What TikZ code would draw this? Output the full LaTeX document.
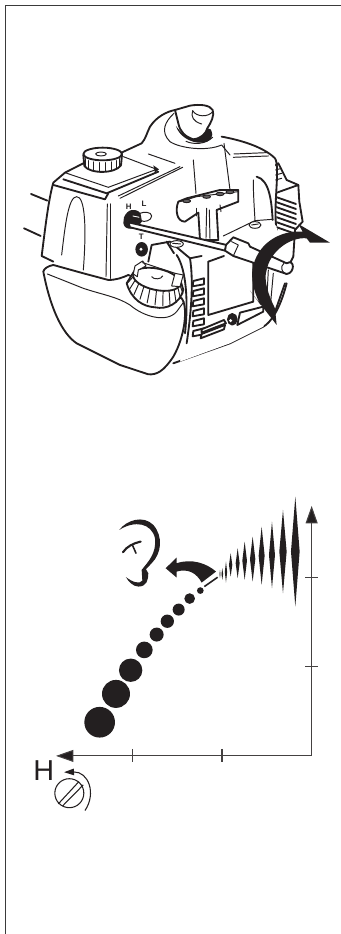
\documentclass[tikz,border=0pt]{standalone}
\usepackage{fontspec}
\setmainfont{Liberation Sans}
\usetikzlibrary{arrows.meta}
\definecolor{inkblack}{HTML}{231F20}
\definecolor{frameink}{HTML}{3A3A3A}
\tikzset{
  pagemap/.style={x=0.02cm, y=-0.02cm},
  enginemap/.style={x=0.02cm/3, y=-0.02cm/3, xshift=0.4cm, yshift=-2.6cm},
  chartmap/.style={x=0.02cm/3, y=-0.02cm/3, xshift=0.4cm, yshift=-9.8cm},
  screwmap/.style={x=0.02cm/3, y=-0.02cm/3, xshift=0.4cm, yshift=-14.8cm},
  heavyline/.style={draw=inkblack, line width=1.05pt, line join=round, line cap=round},
  thinline/.style={draw=inkblack, line width=0.55pt, line join=round, line cap=round},
  axisline/.style={draw=inkblack!85, line width=0.6pt},
  axisarrow/.style={axisline, -{Triangle[length=0.35cm, width=0.24cm, fill=inkblack]}}
}
\begin{document}
\begin{tikzpicture}[pagemap]
  \useasboundingbox (0,0) rectangle (341,934);
  % page frame
  \coordinate (framebottom) at (5.5,934);
  \coordinate (framecorner) at (5.5,5.5);
  \coordinate (frameright) at (341,5.5);
  \draw[frameink, line width=0.8pt] (framebottom) -- (framecorner) -- (frameright);

  % engine
  \begin{scope}[enginemap]
    % hose stubs
    \draw[heavyline] (33,192) -- (82,212);
    \draw[heavyline] (12,295) -- (62,318);
    % fins at the back
    \draw[heavyline, fill=white] (740,120) -- (775,100) -- (800,150) -- (835,165) -- (838,215) -- (848,275) -- (825,300) -- (820,380) -- (790,440) -- (765,455) -- (750,300) -- cycle;
    \foreach \y in {200,215,...,300}
      \draw[heavyline] (765,\y) -- (828,{\y+22});
    \foreach \y in {115,130,145}
      \draw[thinline] (748,{\y+10}) -- (785,\y);
    \draw[heavyline] (765,190) -- (835,165);
    % rear shroud
    \fill[white] (300,70) -- (390,-10) -- (510,-73) -- (580,-40) -- (605,20) -- (765,85) -- (770,300) -- (800,460) -- (730,590) -- (460,700) -- (300,600) -- (265,190) -- cycle;
    \draw[heavyline] (300,70) -- (365,40) .. controls (378,25) and (380,10) .. (390,-10)
      .. controls (410,-40) and (440,-55) .. (465,-60);
    \draw[heavyline] (605,20) .. controls (660,30) and (730,50) .. (765,85) .. controls (782,110) and (758,230) .. (770,300);
    \draw[heavyline] (800,460) .. controls (780,540) and (750,580) .. (730,590) -- (630,640) -- (460,700);
    % neck
    \draw[thinline] (462,-50) .. controls (435,-25) and (420,5) .. (450,35) .. controls (480,55) and (560,65) .. (605,45) -- (630,75);
    \draw[thinline] (385,72) -- (465,100);
    \draw[thinline] (520,90) -- (528,190);
    \draw[thinline] (612,40) -- (632,195);
    \draw[thinline] (642,72) -- (740,68);
    \draw[thinline] (640,82) -- (745,78);
    \draw[thinline] (700,150) .. controls (700,190) and (702,220) .. (705,270);
    \draw[heavyline] (710,140) .. controls (750,150) and (755,220) .. (758,270);
    % pull knob
    \draw[heavyline, fill=white] (465,-60) -- (475,-20) .. controls (480,5) and (495,20) .. (520,28) .. controls (545,25) and (558,10) .. (562,-5)
      .. controls (572,-20) and (585,-45) .. (578,-60) .. controls (570,-75) and (540,-78) .. (510,-73) -- cycle;
    \fill[inkblack] (468,-12) .. controls (475,15) and (510,42) .. (550,38) .. controls (570,35) and (585,22) .. (572,-2) -- (562,-5)
      .. controls (555,12) and (540,25) .. (520,28) .. controls (495,20) and (480,5) .. (468,-12) -- cycle;
    \draw[thinline] (518,-58) .. controls (512,-40) and (520,-25) .. (545,-18);
    \draw[thinline] (518,-58) .. controls (530,-38) and (565,-38) .. (578,-55);
    \draw[thinline] (498,34) .. controls (520,44) and (555,44) .. (578,22);
    % tank
    \fill[white] (135,128) -- (100,158) -- (65,378) -- (190,430) -- (265,450) -- (340,435) -- (395,340) -- (300,200) -- (410,118) -- (310,80) -- (190,100) -- cycle;
    \draw[heavyline] (190,100) -- (135,128) -- (100,158) .. controls (85,210) and (75,300) .. (65,378) -- (100,395);
    \draw[thinline] (135,128) -- (265,172) -- (410,118) -- (310,80);
    \draw[heavyline] (130,148) -- (260,190) -- (415,125);
    \draw[heavyline] (100,165) -- (255,208) -- (265,190);
    \draw[thinline] (295,198) -- (480,110);
    \draw[thinline] (300,205) -- (488,112);
    \fill[inkblack] (400,106) -- (417,118) -- (405,128) -- cycle;
    \draw[thinline] (125,375) .. controls (135,290) and (145,200) .. (170,200) .. controls (195,200) and (200,290) .. (190,420);
    \draw[thinline] (262,222) -- (258,440);
    \draw[thinline] (270,222) -- (270,445);
    % fuel cap
    \draw[heavyline, fill=white] (190,75) -- (193,108) .. controls (210,132) and (285,132) .. (303,106) -- (306,75);
    \foreach \a in {20,40,...,160}
      \draw[thinline] ({248+55*cos(\a)},{80+18*sin(\a)}) -- ({248+55*cos(\a)},{106+18*sin(\a)});
    \draw[heavyline, fill=white] (248,72) ellipse (58 and 19);
    \draw[thinline] (243,72) ellipse (16 and 6);
    % starter handle
    \draw[heavyline, fill=white] (475,215) .. controls (465,240) and (470,275) .. (495,275) -- (535,248) -- (540,330) -- (595,330) -- (590,240) -- (655,215) -- (655,180) -- (600,180) -- (500,205) -- cycle;
    \draw[thinline] (480,215) -- (530,200) -- (655,185);
    \draw[thinline] (530,235) -- (530,258);
    \draw[thinline] (560,235) -- (558,325);
    \draw[thinline] (568,240) -- (570,325);
    \draw[thinline] (600,225) -- (603,245);
    \foreach \x/\y in {500/213,560/200,600/192,630/186}
      \draw[thinline, fill=inkblack!70] (\x,\y) ellipse (12 and 5);
    % carburettor block
    \fill[white] (395,340) -- (450,335) -- (545,375) -- (610,350) -- (750,270) -- (770,290) -- (780,440) -- (730,590) -- (630,640) -- (480,695) -- (498,600) -- (500,500) -- (400,390) -- cycle;
    \draw[heavyline] (385,395) -- (395,345) -- (450,335) -- (510,385);
    \draw[heavyline] (510,385) -- (545,378);
    \draw[heavyline] (440,335) -- (462,370);
    \draw[heavyline] (470,375) .. controls (500,420) and (505,520) .. (495,610);
    \draw[heavyline] (510,385) .. controls (522,460) and (512,560) .. (500,640);
    \draw[heavyline] (565,395) -- (565,555) -- (700,515) -- (700,365);
    \draw[heavyline] (565,395) -- (612,378);
    \draw[thinline] (610,318) -- (705,272) -- (758,268);
    \draw[thinline] (745,420) -- (740,520);
    \draw[thinline] (760,430) -- (750,540);
    \draw[heavyline] (795,460) -- (760,560);
    \foreach \y in {445,475,505,535,565,595}
      \draw[heavyline, fill=white] (520,{\y+8}) -- (552,\y) -- (552,{\y+18}) -- (518,{\y+24}) -- cycle;
    \draw[heavyline, fill=white] (545,598) -- (612,570) -- (618,580) -- (545,608) -- cycle;
    \draw[heavyline, fill=white] (545,612) -- (615,585) -- (612,598) -- (542,625) -- cycle;
    \draw[heavyline, fill=white] (660,548) -- (730,530) -- (730,545) -- (652,585) -- cycle;
    \draw[heavyline, fill=inkblack] (637,568) ellipse (13 and 16);
    \fill[white] (632,572) circle (5);
    \draw[thinline, fill=white] (705,285) ellipse (18 and 10);
    \draw[thinline] (695,285) -- (715,282);
    \draw[thinline, fill=white] (470,342) ellipse (20 and 10);
    \draw[thinline] (458,340) -- (482,342);
    % front guard
    \draw[heavyline, fill=white] (70,425) .. controls (72,415) and (85,408) .. (100,405) -- (190,430) -- (265,450)
      .. controls (290,450) and (310,442) .. (325,435) -- (485,505) .. controls (505,530) and (495,620) .. (460,680)
      .. controls (430,725) and (410,735) .. (385,733) -- (300,705) -- (170,640) .. controls (125,610) and (90,530) .. (70,425) -- cycle;
    \draw[thinline] (82,432) -- (190,475) .. controls (250,495) and (290,500) .. (330,525) .. controls (370,560) and (440,580) .. (470,545) -- (492,515);
    % primer cap
    \draw[heavyline, fill=white] (320,460) .. controls (335,510) and (370,530) .. (405,532) .. controls (440,540) and (480,520) .. (490,480) -- (478,440) -- (345,420) -- cycle;
    \foreach \a in {10,26,...,170}
      \draw[thinline] ({410+70*cos(\a)},{445+32*sin(\a)+12*cos(\a)}) -- ({405+85*cos(\a)},{465+60*sin(\a)+15*cos(\a)});
    \draw[heavyline, fill=white, rotate around={-12:(410,448)}] (410,448) ellipse (72 and 32);
    \draw[thinline, fill=white] (340,432) -- (345,408) -- (368,393) -- (378,408) -- (355,420) -- (352,440) -- cycle;
    \draw[thinline, fill=white] (455,468) -- (465,430) -- (490,435) -- (480,470) -- cycle;
    \draw[thinline] (368,398) -- (465,430);
    \draw[thinline] (395,440) .. controls (400,450) and (425,448) .. (428,438);
    % H L selector
    \fill[inkblack] (312,262) .. controls (322,238) and (345,232) .. (362,250) -- (368,272) .. controls (350,300) and (315,305) .. (310,280) -- cycle;
    \draw[thinline, fill=white] (360,250) .. controls (370,245) and (395,245) .. (395,258) .. controls (395,272) and (372,278) .. (364,272) -- cycle;
    \draw[white, line width=0.5pt] (338,258) -- (358,262);
    \node[inkblack, font=\fontsize{4.5}{5}\selectfont\bfseries] (labelH) at (326,229) {H};
    \node[inkblack, font=\fontsize{4.5}{5}\selectfont\bfseries] (labelL) at (372,221) {L};
    \node[inkblack, font=\fontsize{4.5}{5}\selectfont\bfseries] (labelT) at (364,320) {T};
    \draw[heavyline, fill=inkblack] (365,358) ellipse (16 and 19);
    \fill[white] (363,358) circle (5);
    % screwdriver
    \draw[heavyline, fill=white] (325,277) -- (620,345) -- (615,362) -- (330,292) -- cycle;
    \draw[heavyline, fill=white] (618,345) -- (640,322) -- (685,340) -- (690,350) -- (800,400) .. controls (825,385) and (825,430) .. (800,432) -- (640,378) -- (615,362) -- cycle;
    \draw[thinline] (635,335) -- (655,345) -- (640,378);
    \draw[thinline] (792,400) .. controls (780,410) and (785,425) .. (795,430);
    % turning arrow
    \fill[inkblack] (930,338) -- (835,282) -- (848,305) .. controls (780,300) and (710,340) .. (697,420)
      .. controls (693,460) and (708,500) .. (722,525) -- (690,482) -- (770,585) -- (765,535)
      .. controls (745,495) and (730,450) .. (740,420) .. controls (750,365) and (810,320) .. (860,325) -- (870,338) -- cycle;
  \end{scope}

  % chart
  \begin{scope}[chartmap]
    \coordinate (axisorigin) at (875,798);
    \coordinate (axistop) at (875,48);
    \coordinate (axisleft) at (108,798);
    \draw[axisarrow] (axisorigin) -- (axistop);
    \draw[axisarrow] (axisorigin) -- (axisleft);
    \foreach \y in {262,530}
      \draw[axisline] (856,\y) -- (895,\y);
    \foreach \x in {338,606}
      \draw[axisline] (\x,777) -- (\x,817);
    % sound
    \foreach \x/\t/\b/\w in {826/20/350/13, 789/60/310/11, 756/95/295/9, 725/110/285/9, 698/140/275/8,
      674/155/270/7, 653/175/265/6, 632/190/260/5, 618/215/278/3.5, 607/235/270/2.5, 600/240/265/1.5}
      \fill[inkblack] (\x,\t) -- ({\x+\w},{(\t+\b)/2}) -- (\x,\b) -- ({\x-\w},{(\t+\b)/2}) -- cycle;
    % speed dots
    \foreach \x/\y/\r in {239/697/46, 288/612/42, 332/541/35, 373/480/25, 410/434/21, 442/394/20,
      476/359/18, 509/326/16, 541/302/10}
      \fill[inkblack] (\x,\y) circle (\r);
    \draw[inkblack, line width=0.9pt] (553,290) -- (593,262);
    % arrow to the ear
    \fill[inkblack] (437,235) -- (470,203) -- (470,220) .. controls (515,205) and (560,220) .. (588,245)
      -- (545,278) .. controls (530,250) and (505,235) .. (470,245) -- (470,263) -- cycle;
    % ear
    \fill[inkblack] (298,120) .. controls (320,90) and (370,75) .. (400,105) .. controls (430,140) and (425,190) .. (395,220)
      -- (378,238) -- (385,250) .. controls (385,270) and (380,290) .. (355,290) .. controls (340,290) and (325,275) .. (318,262)
      .. controls (335,275) and (360,285) .. (367,272) -- (365,240) .. controls (385,215) and (410,190) .. (405,145)
      .. controls (395,100) and (345,90) .. (298,120) -- cycle;
    \draw[inkblack, line width=1.2pt, line cap=round] (309,187) .. controls (320,170) and (340,160) .. (362,155);
    \draw[inkblack, line width=0.9pt, line cap=round] (338,167) -- (348,190);
  \end{scope}

  % adjusting screw
  \begin{scope}[screwmap]
    \node[inkblack, font=\fontsize{16.4}{18}\selectfont, inner sep=0pt] (labelhigh) at (71,91) {H};
    \node[circle, draw=inkblack, line width=0.6pt, minimum size=0.58cm, inner sep=0pt] (screwhead) at (148,160) {};
    \draw[inkblack, line width=0.6pt] (115,192) -- (177,125);
    \draw[inkblack, line width=0.6pt] (128,198) -- (190,135);
    \coordinate (turnstart) at (195,212);
    \coordinate (turnend) at (132,97);
    \draw[inkblack, line width=0.6pt, -{Triangle[length=0.2cm, width=0.13cm]}] (turnstart) .. controls (230,160) and (205,95) .. (turnend);
  \end{scope}
\end{tikzpicture}
\end{document}
